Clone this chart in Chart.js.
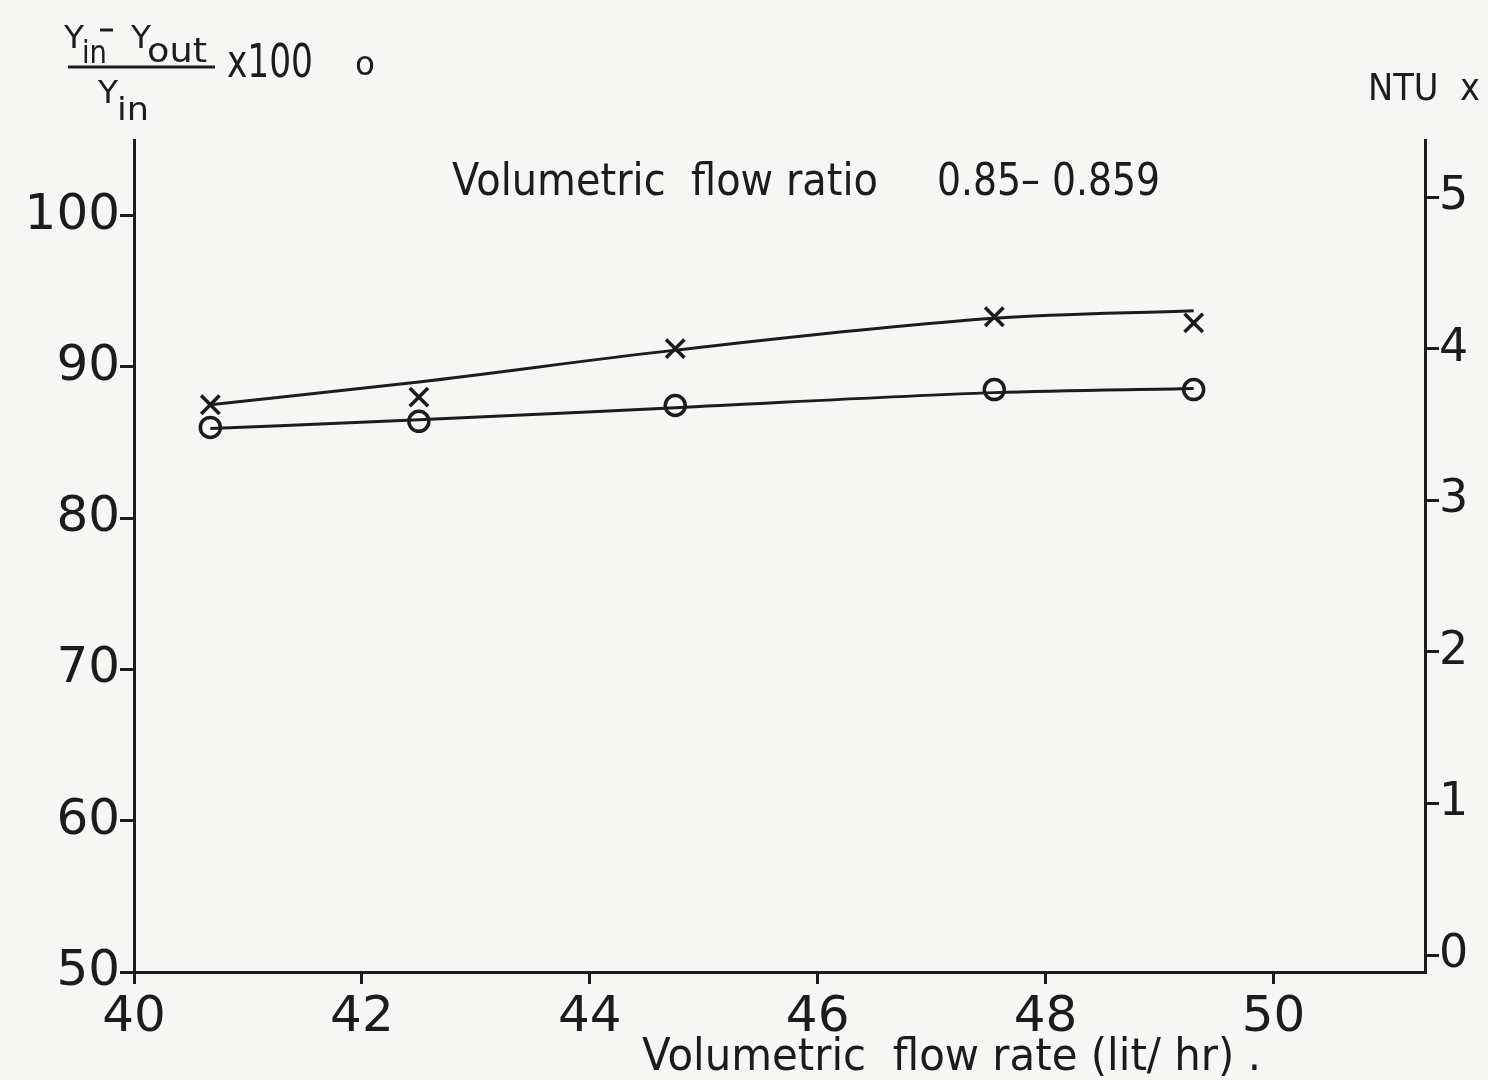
<!DOCTYPE html>
<html>
<head>
<meta charset="utf-8">
<script src="https://cdn.jsdelivr.net/npm/chart.js@4.4.0/dist/chart.umd.min.js"></script>
<style>
  html, body { margin: 0; padding: 0; background: #f6f6f4; }
  #wrap { width: 1488px; height: 1080px; }
</style>
</head>
<body>
<div id="wrap"><canvas id="chart" width="1488" height="1080"></canvas></div>
<script>
// ===== DATA =====
const flowRate = [40.67, 42.5, 44.75, 47.55, 49.3];          // lit/hr
const removalPct = [86.0, 86.4, 87.45, 88.5, 88.5];           // o  (left axis)
const ntuValues = [3.63, 3.68, 4.0, 4.21, 4.17];              // x  (right axis)
const removalCurve = [85.93, 86.5, 87.3, 88.3, 88.57];        // hand-drawn curve through o
const ntuCurve = [3.63, 3.78, 3.99, 4.2, 4.25];               // hand-drawn curve through x
const xTicks = [40, 42, 44, 46, 48, 50];
const leftTicks = [50, 60, 70, 80, 90, 100];
const rightTicks = [0, 1, 2, 3, 4, 5];

const INK = '#1c1c1c';
const FONT = '"DejaVu Sans", sans-serif';

function pts(xs, ys) {
  return xs.map((x, i) => ({ x: x, y: ys[i] }));
}

// draws text squeezed/stretched to a given width (lettering in the scan is narrow)
function fitText(ctx, str, x, baseline, size, width) {
  ctx.save();
  ctx.font = size + 'px ' + FONT;
  ctx.textBaseline = 'alphabetic';
  ctx.textAlign = 'left';
  const w = ctx.measureText(str).width;
  ctx.translate(x, baseline);
  ctx.scale(width / w, 1);
  ctx.fillText(str, 0, 0);
  ctx.restore();
}

// ===== LABELS PLUGIN =====
const labelsPlugin = {
  id: 'labels',
  afterDraw(chart) {
    const ctx = chart.ctx;
    ctx.save();
    ctx.fillStyle = INK;
    ctx.strokeStyle = INK;

    // left axis label: (Yin - Yout) / Yin x100  o
    fitText(ctx, 'Y', 64, 48, 32, 20);
    fitText(ctx, 'in', 82, 63, 32, 25);
    fitText(ctx, 'Y', 131, 48, 32, 20);
    fitText(ctx, 'out', 147, 62, 34, 60);
    ctx.lineWidth = 3;
    ctx.beginPath();
    ctx.moveTo(100, 30);      // minus sign
    ctx.lineTo(113, 30);
    ctx.moveTo(68, 67);       // fraction bar
    ctx.lineTo(215, 67);
    ctx.stroke();
    fitText(ctx, 'Y', 98, 103, 32, 20);
    fitText(ctx, 'in', 117, 120, 32, 32);
    fitText(ctx, 'x100', 227, 77, 46, 86);
    fitText(ctx, 'o', 355, 75, 34, 20);

    // right axis label
    fitText(ctx, 'NTU  x', 1368, 100, 38, 112);

    // annotation
    fitText(ctx, 'Volumetric  flow ratio', 452, 195, 44, 426);
    fitText(ctx, '0.85\u2013 0.859', 937, 195, 44, 223);

    // x axis title
    fitText(ctx, 'Volumetric  flow rate (lit/ hr) .', 642, 1070, 44, 619);
    ctx.restore();
  }
};

// ===== CHART =====
const ctx = document.getElementById('chart').getContext('2d');
new Chart(ctx, {
  type: 'scatter',
  data: {
    datasets: [
      {
        label: 'removal curve',
        data: pts(flowRate, removalCurve),
        yAxisID: 'y',
        showLine: true,
        borderColor: INK,
        borderWidth: 3,
        pointRadius: 0,
        cubicInterpolationMode: 'monotone'
      },
      {
        label: 'NTU curve',
        data: pts(flowRate, ntuCurve),
        yAxisID: 'y2',
        showLine: true,
        borderColor: INK,
        borderWidth: 3,
        pointRadius: 0,
        cubicInterpolationMode: 'monotone'
      },
      {
        label: '(Yin-Yout)/Yin x100',
        data: pts(flowRate, removalPct),
        yAxisID: 'y',
        pointStyle: 'circle',
        pointRadius: 10,
        borderWidth: 3.5,
        borderColor: INK,
        backgroundColor: 'rgba(0,0,0,0)'
      },
      {
        label: 'NTU',
        data: pts(flowRate, ntuValues),
        yAxisID: 'y2',
        pointStyle: 'crossRot',
        pointRadius: 13,
        borderWidth: 3.5,
        borderColor: INK
      }
    ]
  },
  options: {
    responsive: false,
    animation: false,
    devicePixelRatio: 1,
    layout: { padding: { top: 140, left: 0, right: 0, bottom: 0 } },
    plugins: {
      legend: { display: false },
      tooltip: { enabled: false }
    },
    scales: {
      x: {
        type: 'linear',
        position: 'bottom',
        min: 40,
        max: 51.33,
        afterBuildTicks: (s) => { s.ticks = xTicks.map(v => ({ value: v })); },
        afterFit: (s) => { s.height = 108; },
        grid: { drawOnChartArea: false, tickLength: 12, color: INK, lineWidth: 3 },
        border: { color: INK, width: 3 },
        ticks: { color: INK, font: { family: FONT, size: 50 }, padding: 4, maxRotation: 0, autoSkip: false }
      },
      y: {
        type: 'linear',
        position: 'left',
        min: 50,
        max: 105,
        afterBuildTicks: (s) => { s.ticks = leftTicks.map(v => ({ value: v })); },
        afterFit: (s) => { s.width = 134; },
        grid: { drawOnChartArea: false, tickLength: 14, color: INK, lineWidth: 3 },
        border: { color: INK, width: 3 },
        ticks: { color: INK, font: { family: FONT, size: 50 }, padding: 0 }
      },
      y2: {
        type: 'linear',
        position: 'right',
        min: -0.112,
        max: 5.376,
        afterBuildTicks: (s) => { s.ticks = rightTicks.map(v => ({ value: v })); },
        afterFit: (s) => { s.width = 63; },
        grid: { drawOnChartArea: false, tickLength: 14, color: INK, lineWidth: 3 },
        border: { color: INK, width: 3 },
        ticks: { color: INK, font: { family: FONT, size: 46 }, padding: 0 }
      }
    }
  },
  plugins: [labelsPlugin]
});
</script>
</body>
</html>
